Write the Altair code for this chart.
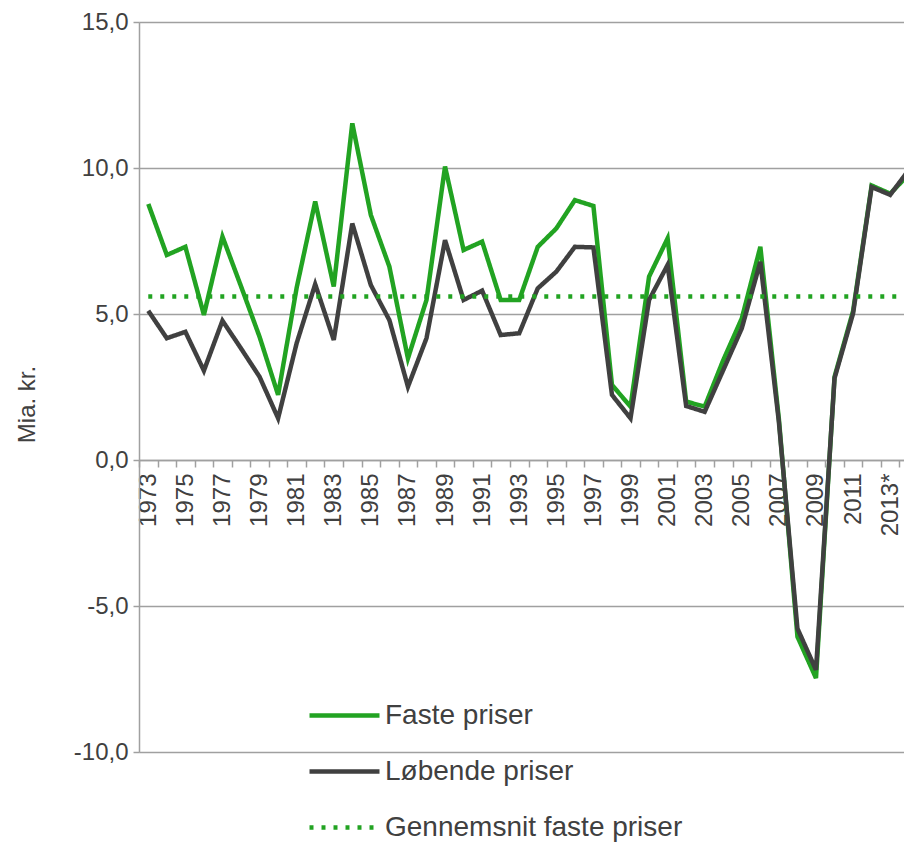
import altair as alt
import pandas as pd

years = [str(y) for y in range(1973, 2013)] + ["2013*", "2014*"]

faste = [8.77, 7.02, 7.30, 4.97, 7.65, 5.95, 4.22, 2.23, 5.90, 8.85,
         5.94, 11.53, 8.39, 6.62, 3.48, 5.48, 10.05, 7.19, 7.48, 5.48,
         5.48, 7.30, 7.93, 8.90, 8.70, 2.57, 1.83, 6.28, 7.59, 2.00,
         1.83, 3.42, 4.85, 7.30, 1.40, -6.05, -7.47, 2.85, 5.10, 9.40,
         9.12, 9.78]

lobende = [5.11, 4.17, 4.39, 3.06, 4.77, 3.82, 2.85, 1.43, 4.00, 6.02,
           4.11, 8.10, 5.99, 4.79, 2.51, 4.17, 7.53, 5.48, 5.80, 4.28,
           4.34, 5.88, 6.45, 7.30, 7.28, 2.23, 1.43, 5.48, 6.68, 1.85,
           1.65, 3.08, 4.51, 6.79, 1.30, -5.77, -7.19, 2.80, 5.02, 9.35,
           9.08, 9.93]

avg_faste = 5.6

series_names = ["Faste priser", "Løbende priser", "Gennemsnit faste priser"]
colors = ["#22a322", "#404040", "#22a322"]
dashes = [[1, 0], [1, 0], [4, 8]]

rows = []
for i, y in enumerate(years):
    rows.append({"year": y, "value": faste[i], "series": series_names[0]})
for i, y in enumerate(years):
    rows.append({"year": y, "value": lobende[i], "series": series_names[1]})
for y in years:
    rows.append({"year": y, "value": avg_faste, "series": series_names[2]})
df = pd.DataFrame(rows)

FONT = "Liberation Sans"
TXT = "#404040"
GRID = "#a0a0a0"

label_expr_x = "indexof(" + str(years[::2]) + ", datum.value) >= 0 ? datum.value : ''"
label_expr_y = "(datum.value < 0 ? '-' : '') + replace(format(abs(datum.value), '.1f'), '.', ',')"

x_enc = alt.X(
    "year:N",
    sort=years,
    scale=alt.Scale(type="band", paddingInner=0, paddingOuter=0, range=[0, 779]),
    axis=alt.Axis(
        title=None,
        orient="bottom",
        offset=-292,
        labelAngle=-90,
        labelExpr=label_expr_x,
        labelOverlap=False,
        labelFont=FONT,
        labelFontSize=24,
        labelColor=TXT,
        labelPadding=6,
        tickBand="extent",
        tickSize=7,
        tickColor=GRID,
        tickWidth=1.5,
        domain=True,
        domainColor=GRID,
        domainWidth=1.5,
        grid=False,
    ),
)

y_enc = alt.Y(
    "value:Q",
    scale=alt.Scale(domain=[-10, 15], nice=False, zero=False),
    axis=alt.Axis(
        title="Mia. kr.",
        titleFont=FONT,
        titleFontSize=24,
        titleFontWeight="normal",
        titleColor=TXT,
        titleAngle=270,
        titleBaseline="middle",
        titleAlign="center",
        titleX=-112,
        titleY=382,
        values=[-10, -5, 0, 5, 10, 15],
        labelExpr=label_expr_y,
        labelFont=FONT,
        labelFontSize=24,
        labelColor=TXT,
        labelPadding=5,
        tickSize=6,
        tickColor=GRID,
        tickWidth=1.5,
        domainColor=GRID,
        domainWidth=1.5,
        grid=True,
        gridColor=GRID,
        gridWidth=1.5,
    ),
)

legend = alt.Legend(
    title=None,
    orient="none",
    legendX=168,
    legendY=656,
    direction="vertical",
    symbolType="stroke",
    symbolSize=4900,
    symbolStrokeWidth=4.5,
    labelFont=FONT,
    labelFontSize=28,
    labelColor=TXT,
    labelOffset=3,
    rowPadding=4,
    labelLimit=400,
)

color_enc = alt.Color(
    "series:N",
    scale=alt.Scale(domain=series_names, range=colors),
    legend=legend,
)
dash_enc = alt.StrokeDash(
    "series:N",
    scale=alt.Scale(domain=series_names, range=dashes),
    legend=legend,
)

base = alt.Chart(df).encode(x=x_enc, y=y_enc, color=color_enc, strokeDash=dash_enc)

green = base.transform_filter(alt.datum.series == series_names[0]).mark_line(
    strokeWidth=4.5, strokeJoin="miter"
)
black = base.transform_filter(alt.datum.series == series_names[1]).mark_line(
    strokeWidth=4.5, strokeJoin="miter"
)
avg = base.transform_filter(alt.datum.series == series_names[2]).mark_line(
    strokeWidth=4.5
)

chart = (
    alt.layer(green, black, avg)
    .properties(
        width=765,
        height=730,
        autosize=alt.AutoSizeParams(type="none"),
        padding={"left": 131, "top": 14, "right": 0, "bottom": 90},
    )
    .configure_view(stroke=None)
    .configure(background="white")
)

chart.save("out.html", embed_options={"renderer": "svg", "actions": False})
